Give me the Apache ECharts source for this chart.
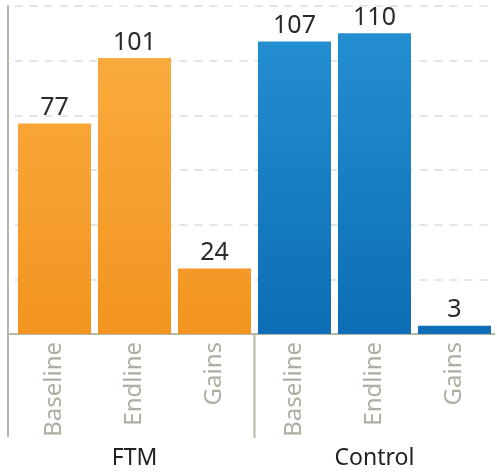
<!DOCTYPE html>
<html>
<head>
<meta charset="utf-8">
<script src="https://cdn.jsdelivr.net/npm/echarts@6/dist/echarts.min.js"></script>
<style>html,body{margin:0;padding:0;background:#fff}#c{width:497px;height:472px}</style>
</head>
<body>
<div id="c"></div>
<script>
var categories = ['Baseline', 'Endline', 'Gains', 'Baseline', 'Endline', 'Gains'];
var groups = ['FTM', 'Control'];
var ftmValues = [77, 101, 24];
var controlValues = [107, 110, 3];
var yTicks = [0, 20, 40, 60, 80, 100, 120];

var gridLeft = 14.5, yOffset = 6.5, gridTop = 6, gridBottom = 138, H = 472;
var yTopPx = gridTop, yBotPx = H - gridBottom;

var orange = new echarts.graphic.LinearGradient(0, yTopPx, 0, yBotPx, [
  {offset: 0, color: '#faaf42'}, {offset: 1, color: '#f39421'}], true);
var blue = new echarts.graphic.LinearGradient(0, yTopPx, 0, yBotPx, [
  {offset: 0, color: '#2592d2'}, {offset: 1, color: '#0d6db6'}], true);

var data = ftmValues.map(function (v) { return {value: v, itemStyle: {color: orange}}; })
  .concat(controlValues.map(function (v) { return {value: v, itemStyle: {color: blue}}; }));

var chart = echarts.init(document.getElementById('c'), null, {renderer: 'canvas'});
chart.setOption({
  animation: false,
  grid: {left: gridLeft, right: 2.5, top: gridTop, bottom: gridBottom, containLabel: false},
  xAxis: [{
    type: 'category', data: categories,
    axisLine: {show: true, lineStyle: {color: '#b7b6a9', width: 2}},
    axisTick: {show: false},
    axisLabel: {rotate: 90, fontSize: 24, color: '#aeada1', fontFamily: 'Noto Sans', margin: 8}
  }, {
    type: 'category', data: groups, position: 'bottom',
    axisLine: {show: false}, axisTick: {show: false},
    axisLabel: {fontSize: 23, color: '#222', fontFamily: 'Noto Sans', margin: 113}
  }],
  yAxis: {
    type: 'value', min: yTicks[0], max: yTicks[yTicks.length - 1], interval: 20,
    offset: yOffset,
    axisLine: {show: true, lineStyle: {color: '#b7b6a9', width: 2}},
    axisTick: {show: false}, axisLabel: {show: false},
    splitLine: {show: true, lineStyle: {color: '#deded6', width: 1.5, type: [8, 7]}}
  },
  series: [{
    type: 'bar', xAxisIndex: 0, data: data, barWidth: 73,
    label: {show: true, position: 'top', distance: 3, fontSize: 25, color: '#2a2a2a', fontFamily: 'Noto Sans'}
  }]
});

var xSep = (chart.convertToPixel({xAxisIndex: 0}, 2) + chart.convertToPixel({xAxisIndex: 0}, 3)) / 2;
var yBase = chart.convertToPixel({yAxisIndex: 0}, 0);
var yLeft = gridLeft - yOffset;
chart.setOption({
  graphic: [
    {type: 'line', shape: {x1: xSep, y1: yBase, x2: xSep, y2: yBase + 104}, style: {stroke: '#b7b6a9', lineWidth: 2}},
    {type: 'line', shape: {x1: yLeft, y1: yBase - 1, x2: yLeft, y2: yBase + 103}, style: {stroke: '#b7b6a9', lineWidth: 2}},
    {type: 'line', shape: {x1: yLeft, y1: yBase, x2: gridLeft, y2: yBase}, style: {stroke: '#b7b6a9', lineWidth: 2}}
  ]
});
</script>
</body>
</html>
